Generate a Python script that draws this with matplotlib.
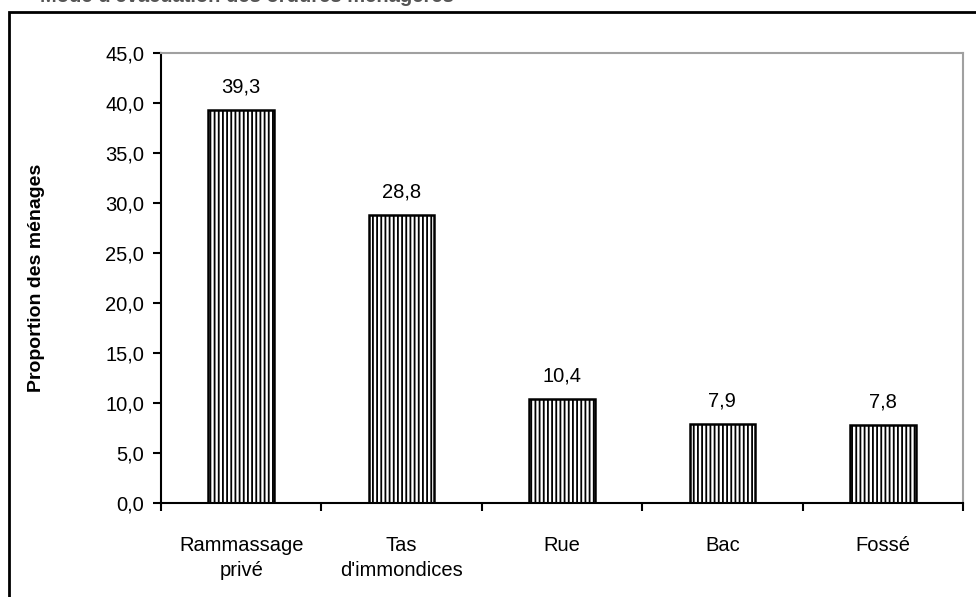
import matplotlib
matplotlib.use('Agg')
import matplotlib.pyplot as plt
from matplotlib.patches import Rectangle
from matplotlib.ticker import FuncFormatter, FixedLocator

categories = ['Rammassage\nprivé', "Tas\nd'immondices", 'Rue', 'Bac', 'Fossé']
values = [39.3, 28.8, 10.4, 7.9, 7.8]
value_labels = ['39,3', '28,8', '10,4', '7,9', '7,8']
ylabel = 'Proportion des ménages'
top_text = "Mode d'évacuation des ordures ménagères"


def main():
    plt.rcParams['font.family'] = ['Liberation Sans', 'DejaVu Sans']
    plt.rcParams['hatch.linewidth'] = 1.3

    fig = plt.figure(figsize=(9.76, 5.97), dpi=100)
    ax = fig.add_axes([161 / 976, 94 / 597, 802 / 976, 450 / 597])

    x = list(range(len(values)))
    ax.bar(x, values, width=0.41, color='white', edgecolor='black',
           linewidth=1.8, hatch='||||')
    for xi, v, lab in zip(x, values, value_labels):
        ax.text(xi, v + 1.3, lab, ha='center', va='bottom', fontsize=14.5)

    ax.set_xlim(-0.5, len(values) - 0.5)
    ax.set_ylim(0, 45)
    ax.set_yticks([i * 5 for i in range(10)])
    ax.yaxis.set_major_formatter(FuncFormatter(lambda v, p: f'{v:.1f}'.replace('.', ',')))
    ax.set_xticks(x)
    ax.set_xticklabels(categories, fontsize=14.5, linespacing=1.35)
    ax.xaxis.set_minor_locator(FixedLocator([i - 0.5 for i in range(len(values) + 1)]))
    ax.tick_params(axis='x', which='major', length=0, pad=24)
    ax.tick_params(axis='x', which='minor', length=6, width=1.5, direction='out')
    ax.tick_params(axis='y', length=6, width=1.5, direction='out', labelsize=14.5, pad=6)

    ax.set_ylabel(ylabel, fontsize=14, fontweight='bold')
    ax.yaxis.set_label_coords(-116 / 802, 0.5)

    ax.spines['left'].set_linewidth(1.5)
    ax.spines['bottom'].set_linewidth(1.5)
    for s in ['top', 'right']:
        ax.spines[s].set_color('#a0a0a0')
        ax.spines[s].set_linewidth(1.5)

    fig.patches.append(Rectangle((9 / 976, -0.1), 1.2, (585 / 597) + 0.1,
                                 transform=fig.transFigure, fill=False,
                                 edgecolor='black', linewidth=2))
    # title is cut off at the top edge in the original
    fig.text(40 / 976, 1 - 1.5 / 597, top_text, fontsize=14.5, fontweight='bold',
             va='baseline', ha='left', color='#555555')

    fig.savefig('out.png', dpi=100)


if __name__ == '__main__':
    main()
